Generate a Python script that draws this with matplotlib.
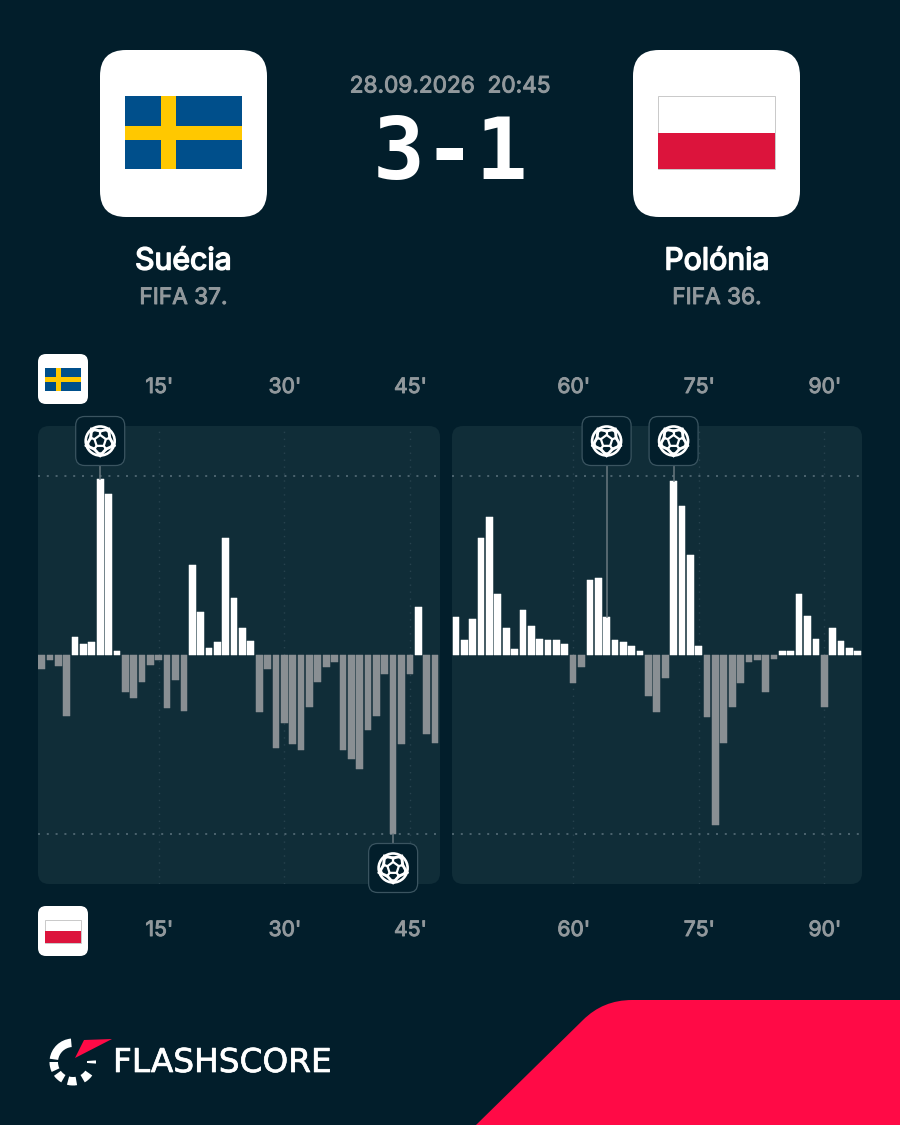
import numpy as np
import matplotlib
matplotlib.use("Agg")
import matplotlib.pyplot as plt
import matplotlib.patheffects as pe
from matplotlib.patches import FancyBboxPatch, Rectangle, Circle, Wedge, Polygon, PathPatch
from matplotlib.path import Path

# ---- data -------------------------------------------------------------
home_team = "Suécia"
away_team = "Polónia"
home_rank = "FIFA 37."
away_rank = "FIFA 36."
match_date = "28.09.2026  20:45"
score = "3-1"
brand = "FLASHSCORE"

minutes_first = list(range(1, 49))
momentum_first = [-14, -5, -10.7, -60.7, 18, 10.7, 12.7, 175.7, 161, 4.3, -37, -43,
                  -27, -10, -5, -53, -25, -56, 90, 43, 7, 13, 117, 57,
                  27, 14.3, -57, -14, -93, -68, -89, -95, -52, -27, -12, -7,
                  -95, -104, -114, -75, -61, -19, -179, -89, -19, 48, -79, -88]
minutes_second = list(range(46, 95))
momentum_second = [37.7, 14.7, 36, 117, 138, 61, 27, 5.7, 44.7, 28.7, 16.3, 14.7,
                   14.7, 10.7, -28.3, -12.3, 75, 77, 37.7, 14.7, 12.7, 9, 4.3, -40.7,
                   -56.7, -23, 174, 148.7, 100, 9, -62.3, -170, -87.7, -51.7, -28, -7,
                   -5.3, -37.3, -4, 4.3, 4.3, 61, 39.3, 16, -51.7, 26.7, 14.3, 7, 4.3]
ticks_first = [15, 30, 45]
ticks_second = [60, 75, 90]
goals_first = [(8, 1), (43, -1)]
goals_second = [(64, 1), (72, 1)]
grid_value = 179

# ---- colours ----------------------------------------------------------
BG = "#021e2b"
PANEL = "#102d38"
WHITE = "#ffffff"
GREY = "#898f93"
LABEL = "#91989c"
DOT = "#4a626d"
VDOT = "#27424e"
RED = "#ff0a46"
BLUE = "#004f8b"
YEL = "#ffc800"
PRED = "#dc143c"
TEXT_FONT = ["Inter", "Roboto", "DejaVu Sans"]

W, H = 900, 1125
fig = plt.figure(figsize=(9, 11.25), dpi=100, facecolor=BG)


def px_axes(z):
    a = fig.add_axes([0, 0, 1, 1], zorder=z)
    a.set_xlim(0, W)
    a.set_ylim(H, 0)
    a.axis("off")
    return a


bg = px_axes(0)
top = px_axes(3)


def heavy(color, lw):
    return [pe.withStroke(linewidth=lw, foreground=color)]


def rbox(a, x0, y0, x1, y1, r, fc, ec="none", lw=0, z=1):
    a.add_patch(FancyBboxPatch((x0 + r, y0 + r), x1 - x0 - 2 * r, y1 - y0 - 2 * r,
                               boxstyle=f"round,pad={r},rounding_size={r}",
                               fc=fc, ec=ec, lw=lw, zorder=z))


def sweden(a, x0, y0, x1, y1):
    w, h = x1 - x0, y1 - y0
    a.add_patch(Rectangle((x0, y0), w, h, fc=BLUE, ec="none", zorder=3))
    a.add_patch(Rectangle((x0 + w * 0.31, y0), w * 0.13, h, fc=YEL, ec="none", zorder=4))
    a.add_patch(Rectangle((x0, y0 + h * 0.4), w, h * 0.2, fc=YEL, ec="none", zorder=4))


def poland(a, x0, y0, x1, y1):
    w, h = x1 - x0, y1 - y0
    a.add_patch(Rectangle((x0, y0), w, h, fc=WHITE, ec="#c9c9c9", lw=0.7, zorder=3))
    a.add_patch(Rectangle((x0, y0 + h / 2), w, h / 2, fc=PRED, ec="none", zorder=4))


# ---- header -----------------------------------------------------------
rbox(bg, 100, 50, 267, 217, 26, WHITE)
rbox(bg, 633, 50, 800, 217, 26, WHITE)
sweden(bg, 125, 96.3, 241.5, 169.5)
poland(bg, 658, 96.3, 774.5, 169.5)

bg.text(450.5, 86.5, match_date, ha="center", va="center", color=LABEL, fontsize=16.3,
        family=TEXT_FONT, path_effects=heavy(LABEL, 0.7))
bg.text(450, 146, score, ha="center", va="center_baseline", color=WHITE, fontsize=62,
        family="DejaVu Sans Mono", fontweight="bold")
for cx, name, rank in [(183.5, home_team, home_rank), (717, away_team, away_rank)]:
    bg.text(cx, 261.5, name, ha="center", va="center", color=WHITE, fontsize=21.8,
            family=TEXT_FONT, path_effects=heavy(WHITE, 1.1))
    bg.text(cx, 298, rank, ha="center", va="center", color=LABEL, fontsize=16.3,
            family=TEXT_FONT, path_effects=heavy(LABEL, 0.7))

# ---- small team tiles -------------------------------------------------
rbox(bg, 38, 354, 88, 404, 8, WHITE)
sweden(bg, 45, 368, 80.5, 390.5)
rbox(bg, 38, 906, 88, 956, 8, WHITE)
poland(bg, 45, 920, 80.5, 942.5)

# ---- panels -----------------------------------------------------------
rbox(bg, 38, 426, 440, 884, 11, PANEL)
rbox(bg, 452, 426, 862, 884, 11, PANEL)


def panel(x0, x1, xlim, minutes, values, ticks):
    a = fig.add_axes([x0 / W, 1 - 884 / H, (x1 - x0) / W, (884 - 426) / H], zorder=1)
    a.patch.set_alpha(0)
    a.set_xlim(*xlim)
    a.set_ylim(-229, 229)
    a.axis("off")
    for t in ticks:
        a.axvline(t, color=VDOT, lw=1.0, ls=(0, (1, 4)), zorder=1)
    for v in (grid_value, -grid_value):
        a.axhline(v, color=DOT, lw=1.44, ls=(0, (1, 3.4)), zorder=1)
    vals = np.array(values)
    colors = [WHITE if v > 0 else GREY for v in vals]
    a.bar(minutes, vals, width=0.8, color=colors, edgecolor=colors, linewidth=0.35,
          joinstyle="round", zorder=3)
    return a


ax1 = panel(38, 440, (0.57, 48.6), minutes_first, momentum_first, ticks_first)
ax2 = panel(452, 862, (45.53, 94.51), minutes_second, momentum_second, ticks_second)


def to_px(a, x, y):
    return top.transData.inverted().transform(a.transData.transform((x, y)))


def ball(a, cx, cy, r=14.5):
    z = 8
    a.add_patch(Circle((cx, cy), r, fc=BG, ec=WHITE, lw=1.9, zorder=z))
    ang = np.deg2rad(-90 + 72 * np.arange(5))
    inner = np.c_[cx + 6 * np.cos(ang), cy + 6 * np.sin(ang)]
    a.add_patch(Polygon(inner, closed=True, fc=BG, ec=WHITE, lw=1.6, zorder=z + 1))
    mid = np.c_[cx + 10 * np.cos(ang), cy + 10 * np.sin(ang)]
    for p, q in zip(inner, mid):
        a.plot([p[0], q[0]], [p[1], q[1]], color=WHITE, lw=1.6, zorder=z + 1)
    for i in range(5):
        t0 = ang[i]
        for d in (-0.62, 0.62):
            a.plot([mid[i, 0], cx + r * np.cos(t0 + d)], [mid[i, 1], cy + r * np.sin(t0 + d)],
                   color=WHITE, lw=2.1, zorder=z + 1)
        t = t0 + np.deg2rad(36)
        a.add_patch(Wedge((cx, cy), r, np.rad2deg(t) - 8, np.rad2deg(t) + 8,
                          width=3.2, fc=WHITE, ec="none", zorder=z + 1))


def goal_marker(a, minute, side, value):
    x, ytop = to_px(a, minute, value)
    if side > 0:
        yc, y_stem = 441, 466
    else:
        yc, y_stem = 868, 843
    top.plot([x, x], [y_stem, ytop], color="#69787f", lw=1.1, zorder=5)
    rbox(top, x - 24.5, yc - 24.5, x + 24.5, yc + 24.5, 9, BG, ec="#3a5460", lw=0.9, z=6)
    ball(top, x, yc)


for m, s in goals_first:
    goal_marker(ax1, m, s, momentum_first[minutes_first.index(m)])
for m, s in goals_second:
    goal_marker(ax2, m, s, momentum_second[minutes_second.index(m)])

# ---- minute labels ----------------------------------------------------
for a, ticks in [(ax1, ticks_first), (ax2, ticks_second)]:
    for t in ticks:
        x = to_px(a, t, 0)[0]
        for y in (387, 930):
            top.text(x + 0.5, y, f"{t}'", ha="center", va="center", color=LABEL,
                     fontsize=15.2, family=TEXT_FONT, path_effects=heavy(LABEL, 0.7))

# ---- red corner -------------------------------------------------------
verts = [(476, 1125), (583, 1020), (603, 1000), (632, 1000), (900, 1000), (900, 1125), (476, 1125)]
codes = [Path.MOVETO, Path.LINETO, Path.CURVE3, Path.CURVE3, Path.LINETO, Path.LINETO, Path.CLOSEPOLY]
bg.add_patch(PathPatch(Path(verts, codes), fc=RED, ec="none", zorder=2))

# ---- logo -------------------------------------------------------------
lc = (73, 1062)
for r, w, a0, a1 in [(23.5, 8.5, 95, 172), (23.5, 8.5, 180, 205), (23.5, 8.5, 216, 240),
                     (23.5, 8.5, 255, 280), (23.5, 8.5, 300, 325), (23, 9, -4, 4)]:
    bg.add_patch(Wedge(lc, r, -a1, -a0, width=w, fc=WHITE, ec="none", zorder=3))
bg.add_patch(Polygon([(75, 1058), (84, 1040), (112, 1039)], closed=True, fc=RED, ec="none", zorder=4))
bg.text(113, 1062.5, brand, ha="left", va="center", color=WHITE, fontsize=23.6,
        family="DejaVu Sans", path_effects=heavy(WHITE, 0.5))

fig.savefig("out.png", dpi=100, facecolor=BG)
